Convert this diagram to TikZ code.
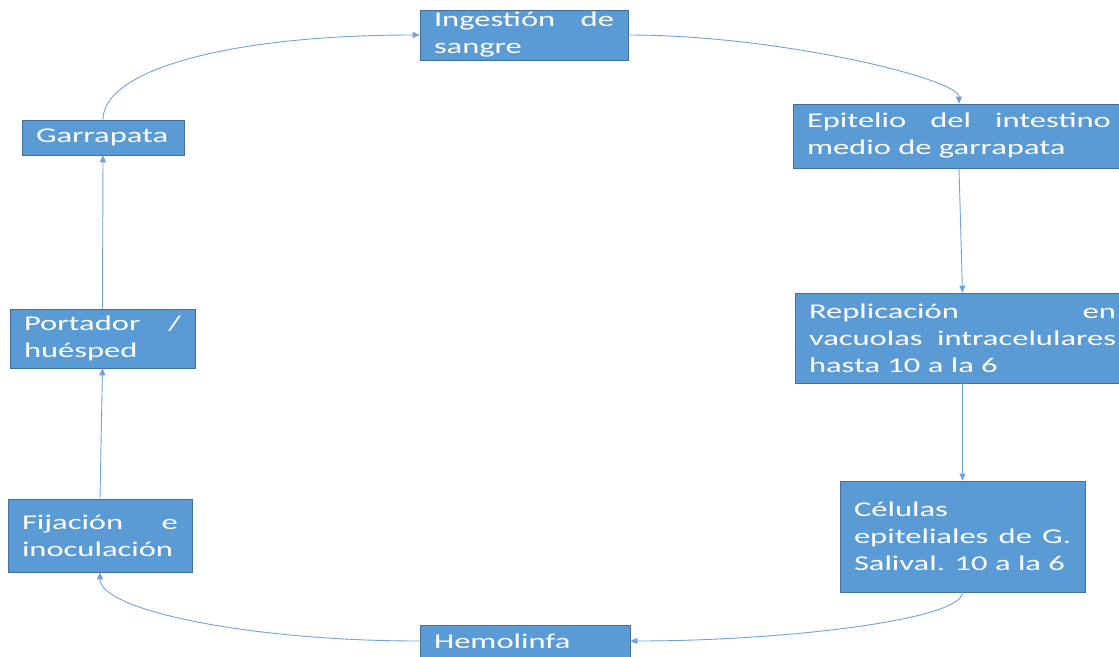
\documentclass[tikz,border=0pt]{standalone}
\usepackage{fontspec}
\setmainfont{Carlito}[FakeStretch=1.55]
\usetikzlibrary{arrows.meta}
\definecolor{boxblue}{HTML}{5B9BD5}
\definecolor{boxline}{HTML}{41719C}
\definecolor{linkblue}{HTML}{6FA3DA}

\begin{document}
\begin{tikzpicture}[x=1pt,y=-1pt,
    stage/.style={draw=boxline,line width=0.6pt,fill=boxblue,text=white,
      inner xsep=14pt,inner ysep=2pt,align=justify,
      font=\fontsize{21}{27}\selectfont},
    link/.style={draw=linkblue,line width=0.9pt,-{Triangle[length=7pt,width=6pt]}}]
    \useasboundingbox (0,0) rectangle (1119,656);
    % cycle stages (image coordinates, y downwards)
    \node[stage,minimum width=208pt,minimum height=50pt,text width=180pt] (ing) at (524,35)
        {Ingestión de\linebreak sangre};
    \node[stage,minimum width=332pt,minimum height=64pt,text width=304pt] (epi) at (959,136)
        {Epitelio del intestino\linebreak medio de garrapata};
    \node[stage,minimum width=335pt,minimum height=90pt,text width=307pt] (rep) at (962.5,338)
        {Replicación en\linebreak vacuolas intracelulares\linebreak hasta 10 a la 6};
    \node[stage,minimum width=245pt,minimum height=111pt,text width=217pt] (cel) at (962.5,536.5)
        {Células\newline epiteliales de G.\linebreak Salival. 10 a la 6};
    \node[stage,minimum width=210pt,minimum height=32pt,text width=182pt] (hem) at (525,641)
        {Hemolinfa};
    \node[stage,minimum width=184pt,minimum height=73pt,text width=156pt] (fij) at (100,535.5)
        {Fijación e\linebreak inoculación};
    \node[stage,minimum width=185pt,minimum height=59pt,text width=157pt] (por) at (102.5,338.5)
        {Portador /\linebreak huésped};
    \node[stage,minimum width=162pt,minimum height=35pt,text width=134pt] (gar) at (103,137.5)
        {Garrapata};
    % connectors
    \draw[link] (gar.north) .. controls +(0,-50) and +(-190,0) .. (ing.west);
    \draw[link] (ing.east) .. controls +(150,0) and +(0,-25) .. (epi.north);
    \draw[link] (epi.south) -- (rep.north);
    \draw[link] (rep.south) -- (cel.north);
    \draw[link] (cel.south) .. controls +(0,28) and +(150,0) .. (hem.east);
    \draw[link] (hem.west) .. controls +(-170,0) and +(0,38) .. (fij.south);
    \draw[link] (fij.north) -- (por.south);
    \draw[link] (por.north) -- (gar.south);
\end{tikzpicture}
\end{document}
